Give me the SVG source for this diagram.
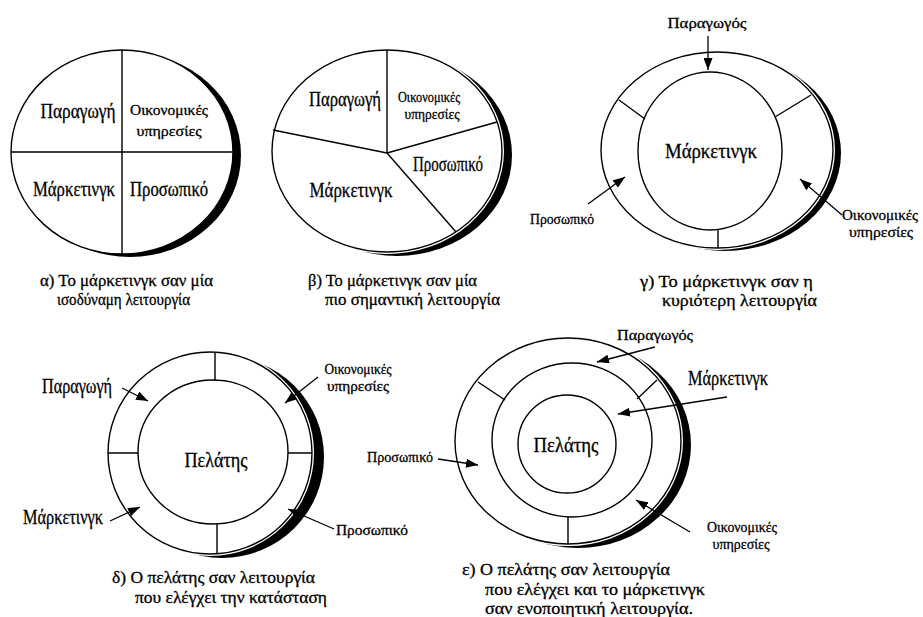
<svg xmlns="http://www.w3.org/2000/svg" width="923" height="617" viewBox="0 0 923 617">
  <style>
    .bg { fill: #ffffff; }
    .shadow { fill: #000000; stroke: none; }
    .halo { fill: #ffffff; stroke: #ffffff; stroke-width: 4; }
    .ring { fill: #ffffff; stroke: #000000; stroke-width: 1.4; }
    .ring-open { fill: none; stroke: #000000; stroke-width: 1.4; }
    .div { fill: none; stroke: #000000; stroke-width: 1.4; }
    .conn { fill: none; stroke: #000000; stroke-width: 1.3; marker-end: url(#head); }
    text { font-family: "Liberation Serif", "DejaVu Serif", serif; fill: #000000; stroke: #000000; stroke-width: 0.3; }
    .lbl { font-size: 21px; text-anchor: middle; }
    .sm { font-size: 15px; text-anchor: middle; }
    .cap { font-size: 17px; }
  </style>
  <defs>
    <marker id="head" viewBox="0 0 12 9" refX="12" refY="4.5" markerWidth="12" markerHeight="9" markerUnits="userSpaceOnUse" orient="auto">
      <path d="M0,0 L12,4.5 L0,9 Z" fill="#000000"/>
    </marker>
  </defs>

  <rect class="bg" x="0" y="0" width="923" height="617"/>

  <!-- (α) four equal quadrants -->
  <g id="diagram-a">
    <ellipse class="shadow" cx="130" cy="155" rx="111" ry="102"/>
    <ellipse class="ring" cx="122" cy="152" rx="111" ry="102"/>
    <path class="div" d="M122,50 V254 M11,152 H233"/>
    <text class="lbl" x="78" y="118" textLength="75" lengthAdjust="spacingAndGlyphs">Παραγωγή</text>
    <text class="sm" x="169" y="115" font-size="18" textLength="78" lengthAdjust="spacingAndGlyphs">Οικονομικές</text>
    <text class="sm" x="169" y="136" font-size="18" textLength="65" lengthAdjust="spacingAndGlyphs">υπηρεσίες</text>
    <text class="lbl" x="74" y="196" textLength="82" lengthAdjust="spacingAndGlyphs">Μάρκετινγκ</text>
    <text class="lbl" x="169" y="196" textLength="78" lengthAdjust="spacingAndGlyphs">Προσωπικό</text>
    <text class="cap" x="40" y="286" textLength="173" lengthAdjust="spacingAndGlyphs">α) Το μάρκετινγκ σαν μία</text>
    <text class="cap" x="57" y="305" textLength="133" lengthAdjust="spacingAndGlyphs">ισοδύναμη λειτουργία</text>
  </g>

  <!-- (β) marketing takes a larger slice -->
  <g id="diagram-b">
    <ellipse class="shadow" cx="397" cy="155" rx="115" ry="101"/>
    <ellipse class="halo" cx="387" cy="151" rx="115" ry="101"/>
    <ellipse class="ring" cx="387" cy="151" rx="115" ry="101"/>
    <path class="div" d="M387,153 L387,50 M387,153 L273,130 M387,153 L497,122 M387,153 L456,232"/>
    <text class="lbl" x="345" y="106" font-size="20" textLength="72" lengthAdjust="spacingAndGlyphs">Παραγωγή</text>
    <text class="sm" x="429" y="102" textLength="62" lengthAdjust="spacingAndGlyphs">Οικονομικές</text>
    <text class="sm" x="432" y="119" textLength="55" lengthAdjust="spacingAndGlyphs">υπηρεσίες</text>
    <text class="lbl" x="448" y="171" font-size="20" textLength="70" lengthAdjust="spacingAndGlyphs">Προσωπικό</text>
    <text class="lbl" x="351" y="197" font-size="20" textLength="83" lengthAdjust="spacingAndGlyphs">Μάρκετινγκ</text>
    <text class="cap" x="308" y="286" textLength="169" lengthAdjust="spacingAndGlyphs">β) Το μάρκετινγκ σαν μία</text>
    <text class="cap" x="325" y="305" textLength="175" lengthAdjust="spacingAndGlyphs">πιο σημαντική λειτουργία</text>
  </g>

  <!-- (γ) marketing at the core -->
  <g id="diagram-c">
    <ellipse class="shadow" cx="725" cy="153" rx="116" ry="98"/>
    <ellipse class="halo" cx="717" cy="150" rx="116" ry="98"/>
    <ellipse class="ring" cx="717" cy="150" rx="116" ry="98"/>
    <ellipse class="ring-open" cx="710" cy="151" rx="72" ry="79"/>
    <path class="div" d="M619,100 L645,119 M775,117 L811,95 M718,230 V248"/>
    <text class="lbl" x="711" y="158" font-size="22" textLength="92" lengthAdjust="spacingAndGlyphs">Μάρκετινγκ</text>
    <text class="sm" x="707" y="28" font-size="18" textLength="79" lengthAdjust="spacingAndGlyphs">Παραγωγός</text>
    <text class="sm" x="562" y="224" font-size="17" textLength="64" lengthAdjust="spacingAndGlyphs">Προσωπικό</text>
    <text class="sm" x="880" y="220" textLength="76" lengthAdjust="spacingAndGlyphs">Οικονομικές</text>
    <text class="sm" x="881" y="237" textLength="64" lengthAdjust="spacingAndGlyphs">υπηρεσίες</text>
    <text class="cap" x="640" y="287" textLength="173" lengthAdjust="spacingAndGlyphs">γ) Το μάρκετινγκ σαν η</text>
    <text class="cap" x="662" y="306" textLength="155" lengthAdjust="spacingAndGlyphs">κυριότερη λειτουργία</text>
  </g>

  <!-- (δ) customer in the centre -->
  <g id="diagram-d">
    <ellipse class="shadow" cx="222" cy="457" rx="102" ry="101"/>
    <ellipse class="halo" cx="210" cy="453" rx="102" ry="101"/>
    <ellipse class="ring" cx="210" cy="453" rx="102" ry="101"/>
    <ellipse class="ring-open" cx="213" cy="452" rx="75" ry="72"/>
    <path class="div" d="M215,352 V381 M108,453 H138 M288,453 H312 M217,524 V554"/>
    <text class="lbl" x="216" y="467" font-size="25" textLength="63" lengthAdjust="spacingAndGlyphs">Πελάτης</text>
    <text class="lbl" x="77" y="393" font-size="20" textLength="70" lengthAdjust="spacingAndGlyphs">Παραγωγή</text>
    <text class="sm" x="358" y="374" textLength="67" lengthAdjust="spacingAndGlyphs">Οικονομικές</text>
    <text class="sm" x="358" y="391" textLength="62" lengthAdjust="spacingAndGlyphs">υπηρεσίες</text>
    <text class="lbl" x="63" y="524" textLength="80" lengthAdjust="spacingAndGlyphs">Μάρκετινγκ</text>
    <text class="sm" x="372" y="535" font-size="18" textLength="72" lengthAdjust="spacingAndGlyphs">Προσωπικό</text>
    <text class="cap" x="112" y="583" textLength="203" lengthAdjust="spacingAndGlyphs">δ) Ο πελάτης σαν λειτουργία</text>
    <text class="cap" x="135" y="603" textLength="192" lengthAdjust="spacingAndGlyphs">που ελέγχει την κατάσταση</text>
  </g>

  <!-- (ε) customer controls, marketing integrates -->
  <g id="diagram-e">
    <ellipse class="shadow" cx="578" cy="445" rx="113" ry="103"/>
    <ellipse class="halo" cx="568" cy="441" rx="113" ry="103"/>
    <ellipse class="ring" cx="568" cy="441" rx="113" ry="103"/>
    <ellipse class="ring-open" cx="572" cy="440" rx="80" ry="77"/>
    <ellipse class="ring-open" cx="567" cy="444" rx="49" ry="49"/>
    <path class="div" d="M478,382 L505,400 M657,380 L637,399 M568,517 V544"/>
    <text class="lbl" x="566" y="452" font-size="23" textLength="65" lengthAdjust="spacingAndGlyphs">Πελάτης</text>
    <text class="sm" x="655" y="340" font-size="18" textLength="76" lengthAdjust="spacingAndGlyphs">Παραγωγός</text>
    <text class="lbl" x="728" y="385" font-size="20" textLength="80" lengthAdjust="spacingAndGlyphs">Μάρκετινγκ</text>
    <text class="sm" x="400" y="462" font-size="16" textLength="66" lengthAdjust="spacingAndGlyphs">Προσωπικό</text>
    <text class="sm" x="742" y="532" textLength="70" lengthAdjust="spacingAndGlyphs">Οικονομικές</text>
    <text class="sm" x="741" y="549" textLength="57" lengthAdjust="spacingAndGlyphs">υπηρεσίες</text>
    <text class="cap" x="462" y="575" textLength="208" lengthAdjust="spacingAndGlyphs">ε) Ο πελάτης σαν λειτουργία</text>
    <text class="cap" x="485" y="595" textLength="220" lengthAdjust="spacingAndGlyphs">που ελέγχει και το μάρκετινγκ</text>
    <text class="cap" x="485" y="614" textLength="208" lengthAdjust="spacingAndGlyphs">σαν ενοποιητική λειτουργία.</text>
  </g>

  <!-- arrows from the labels into the rings -->
  <g id="connectors">
    <path class="conn" d="M708,36 L708,70"/>
    <path class="conn" d="M588,204 L625,177"/>
    <path class="conn" d="M842,215 L800,179"/>
    <path class="conn" d="M122,388 L148,401"/>
    <path class="conn" d="M318,377 L285,403"/>
    <path class="conn" d="M110,521 L140,507"/>
    <path class="conn" d="M334,529 L288,509"/>
    <path class="conn" d="M655,347 L597,362"/>
    <path class="conn" d="M727,397 L618,414"/>
    <path class="conn" d="M438,459 L478,465"/>
    <path class="conn" d="M690,532 L636,500"/>
  </g>
</svg>
